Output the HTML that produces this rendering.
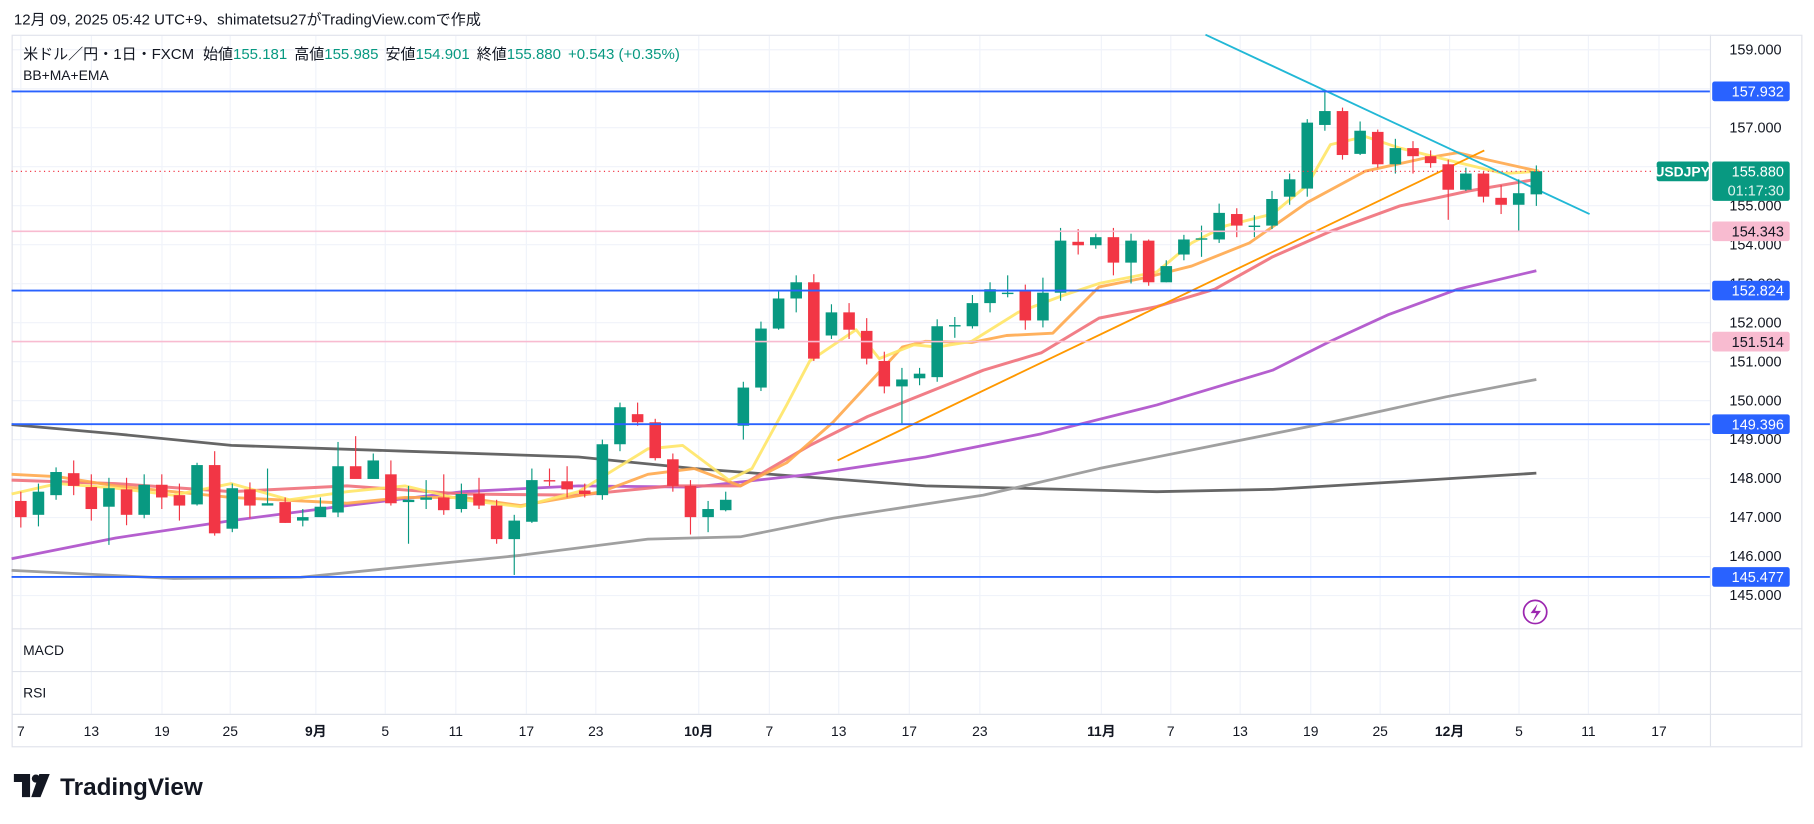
<!DOCTYPE html>
<html><head><meta charset="utf-8"><style>
html,body{margin:0;padding:0;background:#fff;}
svg{display:block;font-family:"Liberation Sans","Noto Sans CJK JP",sans-serif;}
</style></head><body>
<svg id="c" width="1814" height="824" viewBox="0 0 1568 712.25" xmlns="http://www.w3.org/2000/svg">
<rect width="1568" height="713" fill="#fff"/>
<text x="12" y="21" font-size="13" fill="#131722">12月 09, 2025 05:42 UTC+9、shimatetsu27がTradingView.comで作成</text>
<g id="grid" stroke="#f0f3fa" stroke-width="1"></g>
<rect x="10.5" y="30.5" width="1547" height="615" fill="none" stroke="#e0e3eb"/>
<line x1="1478.5" y1="30" x2="1478.5" y2="645" stroke="#e0e3eb"/>
<line x1="10" y1="543.5" x2="1558" y2="543.5" stroke="#e0e3eb"/>
<line x1="10" y1="580.5" x2="1558" y2="580.5" stroke="#e0e3eb"/>
<line x1="10" y1="617.5" x2="1558" y2="617.5" stroke="#e0e3eb"/>
<g id="lines" fill="none" stroke-linejoin="round"></g>
<g id="candles"></g>
<g id="axis" font-size="12.5" fill="#131722"></g>
<g id="hl"></g>
<text x="20" y="51" font-size="13" fill="#131722">米ドル／円・1日・FXCM <tspan dx="4">始値</tspan><tspan fill="#089981">155.181</tspan><tspan dx="6">高値</tspan><tspan fill="#089981">155.985</tspan><tspan dx="6">安値</tspan><tspan fill="#089981">154.901</tspan><tspan dx="6">終値</tspan><tspan fill="#089981">155.880</tspan><tspan dx="6" fill="#089981">+0.543 (+0.35%)</tspan></text>
<text x="20" y="69" font-size="12" fill="#131722">BB+MA+EMA</text>
<text x="20" y="566" font-size="12" fill="#131722">MACD</text>
<text x="20" y="603" font-size="12" fill="#131722">RSI</text>
<circle cx="1327" cy="529" r="10" fill="none" stroke="#9c27b0" stroke-width="1.5"/>
<path d="M1329 522 L1323 530 L1328 530 L1325 537 L1332 528 L1327 528 Z" fill="#9c27b0"/>
<g transform="translate(12,669)">
<path d="M0 0 H14 V20 H7 V7 H0 Z" fill="#131722"/>
<circle cx="19" cy="4" r="3.5" fill="#131722"/>
<path d="M22 0 H31 L23 20 H15 Z" fill="#131722"/>
<text x="40" y="18" font-size="21" font-weight="bold" fill="#131722">TradingView</text>
</g>
</svg>
<script>
const NS="http://www.w3.org/2000/svg";
function el(p,t,a,txt){const e=document.createElementNS(NS,t);for(const k in a)e.setAttribute(k,a[k]);if(txt!=null)e.textContent=txt;document.getElementById(p).appendChild(e);return e;}
const Y=p=>43+(159-p)*33.7;
for(let p=145;p<=159;p++){el('grid','line',{x1:10,x2:1478,y1:Y(p),y2:Y(p)});}
const tl=[[18,'7'],[79,'13'],[140,'19'],[199,'25'],[273,'9月'],[333,'5'],[394,'11'],[455,'17'],[515,'23'],[604,'10月'],[665,'7'],[725,'13'],[786,'17'],[847,'23'],[952,'11月'],[1012,'7'],[1072,'13'],[1133,'19'],[1193,'25'],[1253,'12月'],[1313,'5'],[1373,'11'],[1434,'17']];
tl.forEach(([x,t])=>{el('grid','line',{x1:x,x2:x,y1:31,y2:617});el('axis','text',{x:x,y:636,'text-anchor':'middle','font-size':12,'font-weight':t.includes('月')?'bold':'normal'},t);});
for(let p=145;p<=159;p++){if(p==158||p==156)continue;el('axis','text',{x:1540,y:Y(p)+4,'text-anchor':'end'},p+'.000');}
function pl(pts,c,w,op){el('lines','polyline',{points:pts.map(p=>p.join(',')).join(' '),stroke:c,'stroke-width':w,'stroke-opacity':op||1});}
pl([[10,367],[100,375],[200,385],[350,390],[500,395],[600,405],[800,420],[1000,425],[1100,423],[1200,417],[1328,409]],'#555',2.4,0.9);
pl([[10,493],[150,500],[260,499],[350,490],[450,480],[560,466],[640,464],[720,448],[850,428],[950,405],[1050,385],[1150,365],[1250,343],[1328,328]],'#a0a0a0',2.4);
pl([[10,483],[100,465],[200,450],[300,437],[400,425],[500,420],[600,421],[700,410],[800,395],[900,375],[1000,350],[1100,320],[1150,295],[1200,272],[1260,250],[1328,234]],'#b55fcf',2.4);
pl([[10,415],[100,418],[200,425],[300,420],[400,427],[500,428],[580,420],[640,420],[700,385],[750,360],[850,320],[900,305],[950,275],[1000,265],[1050,250],[1100,222],[1150,200],[1210,178],[1270,165],[1328,155]],'#f0707a',2.6,0.9);
pl([[10,410],[50,412],[100,420],[200,430],[300,435],[350,430],[400,430],[450,437],[520,425],[560,410],[600,405],[640,420],[680,400],[720,365],[780,300],[800,295],[840,296],[870,290],[910,288],[950,248],[990,240],[1030,230],[1080,210],[1130,175],[1180,148],[1230,137],[1260,132],[1285,138],[1330,148]],'#ffa94d',2.5,0.9);
pl([[10,427],[50,418],[100,422],[150,428],[200,418],[250,432],[300,425],[350,420],[400,432],[450,438],[500,425],[560,388],[590,385],[630,415],[650,405],[680,350],[700,312],[740,285],[760,310],[790,298],[810,300],[840,295],[880,270],[920,255],[950,245],[1000,235],[1030,210],[1060,195],[1100,185],[1130,160],[1150,125],[1180,118],[1210,128],[1250,138],[1300,150],[1330,148]],'#ffe566',2.5,0.9);
pl([[724,398],[1283,130]],'#ff9800',1.6);
pl([[1042,30],[1374,185]],'#22b8d6',1.6);
[[157.932,'#2962ff','157.932','#fff'],[152.824,'#2962ff','152.824','#fff'],[149.396,'#2962ff','149.396','#fff'],[145.477,'#2962ff','145.477','#fff'],[154.343,'#f8bbd0','154.343','#131722'],[151.514,'#f8bbd0','151.514','#131722']].forEach(([p,c,t,tc])=>{
 const y=Y(p);el('hl','line',{x1:10,x2:1478,y1:y,y2:y,stroke:c,'stroke-width':c=='#2962ff'?1.6:1.4});
 el('hl','rect',{x:1480,y:y-8.5,width:67,height:17,fill:c,rx:2});
 el('hl','text',{x:1542,y:y+4.5,'text-anchor':'end','font-size':12.5,fill:tc},t);
});
const yc=Y(155.88);
el('hl','line',{x1:10,x2:1430,y1:yc,y2:yc,stroke:'#f23645','stroke-width':1,'stroke-dasharray':'1,3'});
el('hl','rect',{x:1432,y:yc-8.5,width:45,height:17,fill:'#089981',rx:2});
el('hl','text',{x:1454,y:yc+4.5,'text-anchor':'middle','font-size':12,fill:'#fff','font-weight':'bold'},'USDJPY');
el('hl','rect',{x:1480,y:yc-8.5,width:67,height:34,fill:'#089981',rx:2});
el('hl','text',{x:1542,y:yc+4.5,'text-anchor':'end','font-size':12.5,fill:'#fff'},'155.880');
el('hl','text',{x:1542,y:yc+21,'text-anchor':'end','font-size':12.5,fill:'#e0f2ee'},'01:17:30');
const C=[[433,447,425,456],[445,425,418,455],[428,408,404,432],[409,420,398,428],[421,440,410,450],[438,422,413,471],[423,445,413,454],[445,419,410,448],[419,430,410,440],[428,437,418,450],[436,402,400,437],[402,461,390,463],[457,422,418,460],[423,437,417,448],[437,435,405,437],[434,452,430,452],[450,447,440,455],[447,438,430,445],[443,403,382,447],[403,414,377,410],[414,398,392,413],[410,435,398,437],[434,432,420,470],[432,430,415,440],[430,441,410,445],[440,427,418,443],[427,437,413,440],[437,466,432,470],[466,450,445,497],[451,415,405,452],[415,416,405,420],[416,423,403,430],[424,427,418,430],[428,384,380,432],[384,352,348,390],[358,365,348,368],[365,396,362,398],[397,420,392,425],[420,447,415,462],[447,440,433,460],[441,432,425,442],[368,335,330,380],[335,284,278,338],[284,258,252,285],[258,244,238,270],[244,310,237,312],[290,270,263,293],[270,285,262,293],[286,310,275,315],[312,334,304,340],[334,328,318,366],[327,323,318,333],[326,282,276,330],[281,281,274,292],[282,262,255,284],[262,250,244,270],[254,253,238,257],[251,277,246,285],[277,253,240,283],[253,208,197,260],[209,212,198,220],[212,205,202,215],[205,227,197,238],[227,208,202,245],[208,244,207,247],[244,230,225,244],[220,207,203,225],[207,206,195,222],[207,184,176,210],[185,195,180,205],[195,195,186,205],[195,172,165,198],[170,155,150,177],[163,106,103,170],[108,96,78,113],[96,134,93,138],[133,113,105,134],[114,142,112,145],[142,128,120,150],[128,135,122,150],[135,141,130,145],[142,164,138,190],[164,150,145,165],[150,170,148,175],[171,177,160,185],[177,167,155,200],[168,148,143,178]];
const n=C.length;
C.forEach((c,i)=>{const x=18+i*(1328-18)/(n-1);const up=c[1]<=c[0];const col=up?'#089981':'#f23645';
 el('candles','line',{x1:x,x2:x,y1:c[2],y2:c[3],stroke:col,'stroke-width':1});
 const t=Math.min(c[0],c[1]),h=Math.max(1.2,Math.abs(c[0]-c[1]));
 el('candles','rect',{x:x-5,y:t,width:10,height:h,fill:col});});
</script>
</body></html>
